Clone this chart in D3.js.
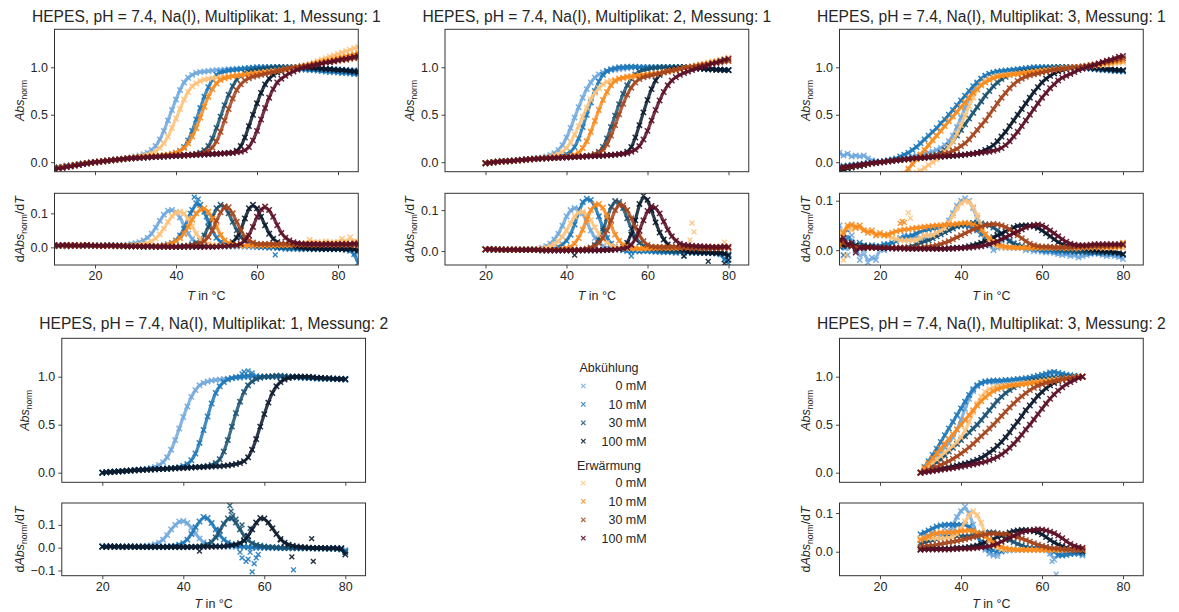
<!DOCTYPE html>
<html>
<head>
<meta charset="utf-8">
<script src="https://cdn.jsdelivr.net/npm/d3@7"></script>
<style>
  html, body { margin: 0; padding: 0; background: #ffffff; }
  svg { display: block; }
</style>
</head>
<body>
<svg id="fig" width="1179" height="612"></svg>
<script>
// ---------------------------------------------------------------------------
// Melting curves (normalised absorbance) and their first derivative,
// HEPES pH 7.4 with Na(I), one data point per °C.
// c = Abkühlung (cooling), h = Erwärmung (heating); suffix = salt in mM.
// ---------------------------------------------------------------------------

const concLabels = ["0 mM", "10 mM", "30 mM", "100 mM"];
const xTicks = [20, 40, 60, 80];
const absTicks = [0, 0.5, 1.0];
const X_DOMAIN = [10, 85];
const ABS_DOMAIN = [-0.1, 1.4];

// ---- Multiplikat 1, Messung 1 (10 … 85 °C) --------------------------------
const tStart_m1s1 = 10;
const abs_m1s1_c0 = [
-.06,-.055,-.05,-.04,-.035,-.03,-.02,-.015,-.01,-.005,
0,.005,.01,.015,.02,.025,.03,.035,.04,.05,
.06,.07,.085,.1,.13,.17,.24,.33,.44,.55,
.66,.76,.84,.89,.92,.94,.95,.955,.96,.965,
.97,.97,.975,.98,.98,.985,.985,.99,.99,.99,
.995,.995,1,1,1,1,1,1,1,1,
1,1,1,.995,.995,.99,.99,.985,.985,.98,
.98,.975,.975,.97,.97,.965];
const abs_m1s1_c10 = [
-.06,-.055,-.05,-.04,-.035,-.03,-.02,-.015,-.01,-.005,
0,.005,.01,.015,.02,.025,.03,.035,.04,.045,
.05,.052,.055,.058,.06,.062,.065,.07,.075,.085,
.1,.12,.16,.23,.33,.45,.57,.69,.79,.87,
.92,.945,.955,.965,.97,.975,.98,.985,.99,.995,
1,1,1,1,1,1,1,.995,.99,.99,
.985,.98,.975,.97,.97,.965,.96,.955,.95,.95,
.945,.94,.94,.935,.93,.93];
const abs_m1s1_c30 = [
-.06,-.055,-.05,-.04,-.035,-.03,-.02,-.015,-.01,-.005,
0,.005,.01,.015,.02,.025,.03,.035,.04,.043,
.046,.048,.05,.052,.054,.056,.058,.06,.062,.064,
.066,.068,.07,.075,.08,.09,.1,.125,.17,.25,
.36,.48,.6,.71,.8,.87,.91,.94,.955,.965,
.975,.98,.985,.99,.995,1,1,1,1,1,
1,1,1,.995,.99,.99,.985,.98,.98,.975,
.97,.97,.965,.96,.96,.955];
const abs_m1s1_c100 = [
-.065,-.06,-.05,-.045,-.04,-.03,-.025,-.015,-.01,-.005,
0,.005,.01,.015,.02,.024,.028,.032,.036,.04,
.043,.046,.049,.052,.055,.057,.059,.061,.063,.065,
.067,.069,.071,.073,.075,.077,.079,.081,.083,.085,
.087,.09,.093,.097,.1,.12,.17,.26,.38,.5,
.62,.73,.82,.88,.92,.945,.96,.975,.985,.99,
1,1,1,.995,.99,.99,.985,.98,.98,.975,
.97,.97,.965,.96,.955,.95];
const abs_m1s1_h0 = [
-.07,-.06,-.055,-.05,-.04,-.035,-.025,-.02,-.01,-.005,
0,.005,.01,.015,.02,.025,.03,.035,.04,.045,
.05,.06,.07,.08,.095,.115,.15,.2,.27,.36,
.46,.56,.66,.74,.8,.83,.855,.87,.88,.885,
.89,.895,.9,.905,.91,.915,.92,.925,.93,.935,
.94,.945,.95,.955,.96,.965,.97,.98,.985,.99,
1,1.01,1.02,1.035,1.05,1.065,1.08,1.095,1.11,1.125,
1.14,1.155,1.17,1.185,1.2,1.215];
const abs_m1s1_h10 = [
-.065,-.06,-.05,-.045,-.04,-.03,-.025,-.02,-.01,-.005,
0,.005,.01,.015,.02,.025,.03,.035,.04,.045,
.05,.052,.055,.06,.062,.065,.07,.075,.08,.09,
.1,.12,.15,.2,.27,.36,.47,.585,.69,.77,
.83,.865,.885,.895,.905,.91,.915,.92,.925,.93,
.935,.94,.945,.95,.955,.96,.97,.975,.985,.99,
1,1.01,1.015,1.025,1.035,1.045,1.055,1.065,1.075,1.085,
1.095,1.105,1.115,1.125,1.135,1.145];
const abs_m1s1_h30 = [
-.07,-.06,-.055,-.045,-.04,-.035,-.025,-.02,-.01,-.005,
0,.005,.01,.015,.02,.025,.03,.035,.04,.043,
.046,.049,.052,.055,.058,.06,.062,.064,.066,.068,
.07,.072,.074,.076,.08,.085,.09,.1,.12,.155,
.22,.32,.44,.56,.67,.76,.82,.86,.885,.9,
.91,.92,.93,.94,.95,.96,.97,.98,.99,.995,
1,1.01,1.015,1.02,1.03,1.035,1.04,1.05,1.055,1.06,
1.07,1.075,1.08,1.09,1.095,1.1];
const abs_m1s1_h100 = [
-.07,-.065,-.06,-.05,-.045,-.035,-.03,-.02,-.015,-.005,
0,.005,.01,.015,.02,.025,.03,.035,.04,.042,
.045,.048,.05,.052,.055,.058,.06,.062,.065,.067,
.07,.072,.074,.076,.078,.08,.082,.084,.086,.088,
.09,.092,.094,.097,.1,.105,.11,.125,.16,.23,
.33,.45,.57,.68,.77,.84,.88,.91,.935,.955,
.975,.99,1,1.01,1.02,1.03,1.04,1.05,1.055,1.065,
1.075,1.085,1.09,1.1,1.11,1.12];

const der_m1s1_c0 = [
.003,.005,.006,.004,.005,.007,.005,.004,.005,.005,
.005,.004,.006,.005,.005,.006,.005,.006,.008,.01,
.012,.015,.02,.028,.04,.058,.078,.096,.108,.11,
.104,.088,.064,.04,.024,.014,.008,.006,.005,.004,
.003,.004,.003,.002,.003,.002,.003,.002,.002,.001,
.001,.002,.001,0,.001,0,0,.001,0,-.001,
0,-.001,-.002,-.001,-.002,-.003,-.002,-.003,-.002,-.003,
-.002,-.004,-.003,-.005,-.008,-.015];
const der_m1s1_c10 = [
.004,.006,.005,.003,.006,.005,.004,.006,.005,.004,
.005,.004,.005,.006,.004,.005,.005,.004,.005,.004,
.003,.004,.003,.004,.003,.004,.005,.006,.009,.013,
.02,.035,.055,.085,.11,.13,.125,.105,.075,.048,
.028,.015,.009,.006,.005,.004,.005,.004,.004,.004,
.002,0,0,-.001,0,-.002,-.003,-.004,-.005,-.004,
-.005,-.006,-.005,-.004,-.006,-.005,-.006,-.004,-.005,-.006,
-.005,-.006,-.007,-.01,-.02,-.045];
const der_m1s1_c30 = [
.005,.004,.006,.005,.005,.004,.006,.005,.004,.005,
.005,.005,.004,.005,.006,.004,.005,.005,.004,.004,
.003,.003,.002,.003,.002,.003,.002,.002,.003,.002,
.002,.003,.004,.005,.008,.012,.02,.035,.06,.09,
.115,.125,.12,.1,.075,.05,.03,.018,.01,.008,
.006,.005,.004,.003,.003,.002,.001,0,0,-.001,
-.001,-.002,-.003,-.004,-.003,-.004,-.005,-.004,-.005,-.004,
-.005,-.004,-.006,-.005,-.006,-.008];
const der_m1s1_c100 = [
.005,.006,.005,.004,.006,.005,.005,.004,.006,.005,
.004,.005,.004,.005,.004,.004,.003,.004,.004,.003,
.003,.003,.002,.003,.002,.003,.002,.002,.002,.003,
.002,.002,.002,.003,.002,.002,.002,.002,.003,.002,
.003,.004,.006,.008,.015,.028,.05,.085,.115,.125,
.115,.09,.065,.04,.025,.015,.01,.008,.006,.005,
.002,0,-.002,-.003,-.004,-.003,-.004,-.005,-.004,-.005,
-.004,-.005,-.006,-.004,-.006,-.01];
const der_m1s1_h0 = [
.006,.005,.005,.007,.005,.006,.008,.005,.007,.005,
.005,.005,.005,.004,.005,.005,.005,.005,.005,.005,
.006,.008,.01,.013,.018,.026,.038,.055,.075,.092,
.102,.105,.1,.085,.062,.04,.024,.015,.01,.007,
.006,.005,.005,.006,.005,.005,.005,.005,.006,.005,
.006,.005,.006,.005,.006,.006,.008,.007,.006,.009,
.01,.01,.012,.022,.015,.016,.012,.018,.014,.015,
.016,.025,.015,.03,.018,.015];
const der_m1s1_h10 = [
.005,.006,.004,.005,.007,.005,.004,.006,.005,.005,
.005,.004,.005,.005,.004,.005,.005,.004,.005,.004,
.003,.004,.003,.004,.003,.004,.004,.005,.008,.012,
.018,.027,.04,.06,.082,.1,.112,.115,.105,.085,
.06,.036,.02,.012,.008,.006,.006,.005,.006,.005,
.006,.005,.006,.006,.005,.007,.006,.008,.007,.008,
.01,.009,.01,.011,.01,.009,.01,.011,.01,.009,
.01,.011,.012,.01,.011,.012];
const der_m1s1_h30 = [
.006,.005,.006,.005,.004,.006,.005,.005,.006,.005,
.005,.004,.005,.005,.005,.004,.004,.004,.003,.003,
.003,.003,.003,.003,.002,.002,.002,.002,.002,.002,
.002,.002,.003,.004,.006,.008,.012,.018,.03,.05,
.078,.103,.12,.118,.1,.075,.05,.03,.02,.014,
.01,.01,.01,.01,.01,.01,.01,.01,.01,.008,
.008,.007,.007,.007,.006,.007,.006,.007,.007,.006,
.007,.006,.007,.006,.007,.006];
const der_m1s1_h100 = [
.006,.005,.006,.007,.005,.006,.005,.006,.007,.005,
.005,.005,.004,.005,.005,.005,.005,.004,.003,.003,
.003,.003,.002,.003,.003,.002,.002,.003,.002,.002,
.002,.002,.002,.002,.002,.002,.002,.002,.002,.002,
.002,.003,.003,.004,.005,.006,.01,.02,.035,.06,
.09,.112,.12,.11,.09,.065,.042,.028,.02,.015,
.012,.011,.01,.01,.01,.01,.009,.01,.01,.009,
.01,.01,.009,.01,.011,.01];
const derOut_m1s1_c10 = [[43.5,.1],[44.5,.148],[45.5,.142],[47.5,.09],[64.5,-.022]];
const derDomain_m1s1 = [-0.052, 0.159];
const derTicks_m1s1 = [0, 0.1];

// ---- Multiplikat 2, Messung 1 (20 … 80 °C) --------------------------------
const tStart_m2s1 = 20;
const abs_m2s1_c0 = [
-.01,-.005,0,.005,.01,.012,.015,.018,.022,.026,
.03,.035,.04,.045,.05,.06,.075,.095,.13,.18,
.26,.36,.47,.58,.68,.77,.84,.89,.925,.945,
.96,.97,.975,.98,.985,.99,.995,1,1,1,
1,1,1,1,1,1,1,1,1,1,
1,.995,.99,.99,.985,.985,.98,.98,.975,.975,
.97];
const abs_m2s1_c10 = [
-.01,-.005,0,.005,.008,.01,.013,.016,.02,.024,
.028,.032,.036,.04,.043,.046,.05,.055,.06,.07,
.085,.11,.16,.25,.37,.5,.63,.75,.85,.92,
.96,.98,.99,1,1,1.005,1.005,1.005,1,1,
1,1,1,1,1,1,1,1,1,1,
1,.995,.99,.99,.985,.98,.98,.975,.975,.97,
.97];
const abs_m2s1_c30 = [
-.01,-.005,0,.005,.008,.01,.013,.016,.02,.024,
.028,.031,.034,.037,.04,.042,.044,.046,.048,.05,
.052,.054,.056,.058,.06,.062,.07,.085,.11,.16,
.25,.37,.49,.61,.72,.81,.88,.925,.955,.97,
.98,.99,.995,1,1,1,1,1,1,1,
1,.995,.99,.99,.985,.98,.98,.975,.975,.97,
.97];
const abs_m2s1_c100 = [
-.01,-.005,0,.005,.008,.01,.013,.016,.02,.024,
.028,.031,.034,.037,.04,.042,.044,.046,.048,.05,
.052,.054,.056,.058,.06,.062,.064,.066,.068,.07,
.073,.076,.079,.083,.09,.11,.16,.26,.39,.525,
.655,.77,.86,.92,.955,.97,.98,.99,.995,1,
1,.995,.99,.99,.985,.98,.98,.975,.975,.97,
.97];
const abs_m2s1_h0 = [
-.01,-.005,0,.005,.008,.01,.013,.016,.02,.024,
.028,.032,.036,.04,.045,.05,.06,.07,.085,.11,
.15,.21,.29,.38,.48,.575,.66,.73,.78,.82,
.845,.86,.87,.88,.885,.89,.895,.9,.905,.91,
.915,.92,.93,.94,.95,.96,.965,.975,.985,.99,
1,1.01,1.02,1.03,1.04,1.05,1.06,1.07,1.08,1.09,
1.1];
const abs_m2s1_h10 = [
-.01,-.005,0,.005,.008,.01,.013,.016,.02,.024,
.028,.032,.035,.038,.041,.044,.047,.05,.053,.056,
.06,.065,.075,.1,.15,.22,.32,.435,.55,.655,
.74,.81,.855,.88,.89,.9,.905,.91,.915,.92,
.925,.93,.935,.94,.95,.955,.965,.97,.98,.99,
1,1.005,1.015,1.02,1.03,1.035,1.045,1.05,1.06,1.07,
1.075];
const abs_m2s1_h30 = [
-.01,-.005,0,.005,.008,.01,.013,.016,.02,.024,
.028,.031,.034,.037,.04,.042,.044,.046,.048,.05,
.052,.054,.056,.058,.06,.065,.07,.085,.1,.13,
.19,.28,.39,.505,.615,.71,.785,.84,.875,.895,
.905,.915,.925,.935,.945,.955,.965,.975,.985,.99,
1,1.005,1.01,1.02,1.025,1.03,1.04,1.045,1.05,1.06,
1.065];
const abs_m2s1_h100 = [
-.01,-.005,0,.005,.008,.01,.013,.016,.02,.024,
.028,.031,.034,.037,.04,.042,.044,.046,.048,.05,
.052,.054,.056,.058,.06,.062,.064,.066,.068,.07,
.073,.076,.08,.085,.09,.095,.11,.13,.17,.24,
.33,.44,.55,.65,.74,.81,.86,.895,.92,.94,
.955,.97,.985,1,1.01,1.025,1.04,1.05,1.065,1.08,
1.09];

const der_m2s1_c0 = [
.005,.004,.005,.004,.004,.003,.004,.003,.004,.004,
.004,.005,.005,.005,.008,.012,.018,.028,.042,.062,
.085,.1,.105,.103,.092,.072,.05,.032,.02,.012,
.008,.006,.005,.005,.005,.004,.004,.003,.002,.001,
.001,0,.001,0,0,.001,0,0,-.001,0,
-.001,-.002,-.003,-.002,-.003,-.004,-.003,-.004,-.005,-.006,
-.01];
const der_m2s1_c10 = [
.004,.003,.005,.004,.004,.003,.004,.004,.003,.004,
.004,.004,.004,.003,.003,.003,.004,.006,.01,.016,
.025,.04,.065,.095,.12,.128,.125,.11,.085,.055,
.032,.018,.01,.005,.002,0,-.002,0,-.001,0,
0,-.001,-.002,-.002,-.003,-.002,-.003,-.004,-.003,-.004,
-.003,-.004,-.005,-.004,-.005,-.004,-.005,-.006,-.008,-.02,
-.03];
const der_m2s1_c30 = [
.004,.004,.003,.004,.004,.003,.003,.004,.003,.003,
.003,.003,.003,.003,.002,.002,.002,.002,.002,.002,
.002,.002,.002,.002,.003,.004,.008,.015,.027,.05,
.08,.108,.122,.12,.105,.08,.055,.035,.02,.012,
.008,.006,.004,.003,.002,.001,0,0,-.001,0,
-.002,-.003,-.002,-.003,-.004,-.003,-.004,-.005,-.004,-.006,
-.008];
const der_m2s1_c100 = [
.004,.004,.003,.004,.003,.003,.003,.003,.003,.003,
.003,.003,.003,.003,.002,.002,.002,.002,.002,.002,
.002,.002,.002,.002,.002,.002,.002,.002,.002,.002,
.003,.003,.004,.006,.01,.02,.04,.075,.115,.135,
.125,.1,.07,.045,.028,.016,.01,.007,.005,.003,
-.002,-.003,-.002,-.004,-.003,-.004,-.005,-.004,-.005,-.006,
-.012];
const der_m2s1_h0 = [
.004,.005,.004,.004,.003,.004,.003,.004,.004,.004,
.004,.004,.004,.005,.005,.008,.012,.016,.024,.035,
.05,.068,.085,.095,.096,.09,.075,.058,.042,.03,
.02,.014,.01,.008,.006,.006,.006,.006,.005,.006,
.006,.008,.009,.01,.009,.008,.009,.01,.009,.01,
.01,.012,.011,.01,.01,.011,.01,.01,.011,.012,
.01];
const der_m2s1_h10 = [
.004,.005,.004,.004,.003,.004,.003,.004,.003,.003,
.004,.003,.003,.003,.003,.003,.003,.004,.004,.005,
.007,.01,.018,.032,.052,.078,.1,.113,.115,.106,
.086,.062,.04,.025,.015,.01,.008,.007,.006,.007,
.006,.007,.006,.007,.008,.007,.008,.007,.008,.009,
.008,.009,.008,.009,.008,.009,.01,.009,.01,.011,
.01];
const der_m2s1_h30 = [
.004,.004,.004,.003,.004,.003,.003,.003,.003,.003,
.003,.003,.003,.003,.002,.002,.002,.002,.002,.002,
.002,.002,.002,.003,.004,.006,.008,.012,.02,.032,
.05,.075,.1,.115,.112,.1,.08,.058,.038,.024,
.015,.011,.01,.01,.01,.01,.01,.01,.01,.008,
.007,.006,.007,.006,.007,.006,.007,.006,.007,.008,
.007];
const der_m2s1_h100 = [
.004,.005,.004,.004,.003,.004,.003,.004,.003,.003,
.003,.003,.003,.003,.002,.002,.002,.002,.002,.002,
.002,.002,.002,.002,.002,.002,.002,.002,.002,.003,
.003,.003,.004,.005,.006,.008,.015,.028,.05,.075,
.098,.11,.106,.092,.072,.052,.036,.025,.018,.015,
.014,.013,.012,.012,.011,.011,.01,.01,.01,.011,
.01];
const derOut_m2s1_c10 = [[56,-.012],[69,-.012],[79.5,-.015]];
const derOut_m2s1_c100 = [[42,-.01],[69,-.012],[75,-.025],[79,-.03],[80,-.022]];
const derOut_m2s1_h0 = [[70.5,.027],[71,.068],[71.5,.047],[79,.022]];
const derDomain_m2s1 = [-0.034, 0.141];
const derTicks_m2s1 = [0, 0.1];

// ---- Multiplikat 3, Messung 1 (10 … 80 °C) --------------------------------
const tStart_m3s1 = 10;
const abs_m3s1_c0 = [
.1,.07,.09,.06,.07,.06,.07,.04,.02,.01,
0,.005,.01,.015,.02,.03,.04,.05,.06,.07,
.08,.09,.1,.11,.13,.15,.18,.22,.28,.37,
.47,.57,.67,.76,.83,.88,.91,.93,.94,.945,
.95,.955,.96,.965,.97,.975,.98,.985,.99,.995,
1,1,1,1,1,1,1,1,1,1,
1,.995,.99,.985,.98,.98,.975,.97,.97,.965,
.96];
const abs_m3s1_c10 = [
-.05,-.04,-.035,-.03,-.025,-.02,-.015,-.01,-.005,0,
.005,.01,.02,.03,.04,.06,.08,.1,.13,.16,
.2,.24,.28,.32,.36,.41,.45,.5,.55,.6,
.65,.7,.75,.8,.84,.88,.91,.93,.945,.955,
.96,.965,.97,.975,.98,.985,.99,.995,1,1,
1,1,1,1,1,1,1,1,1,.995,
.99,.99,.985,.98,.975,.97,.97,.965,.96,.96,
.955];
const abs_m3s1_c30 = [
-.08,-.07,-.06,-.05,-.04,-.035,-.03,-.02,-.01,-.005,
0,.005,.01,.015,.02,.025,.03,.035,.04,.045,
.05,.055,.06,.07,.08,.1,.13,.17,.22,.28,
.34,.4,.46,.52,.58,.64,.7,.75,.8,.84,
.875,.9,.92,.935,.945,.955,.96,.965,.97,.975,
.98,.985,.99,.995,1,1,1,1,1,1,
1,.995,.99,.99,.985,.98,.98,.975,.97,.97,
.965];
const abs_m3s1_c100 = [
-.085,-.075,-.065,-.055,-.045,-.04,-.03,-.02,-.01,-.005,
0,.005,.01,.015,.02,.024,.028,.032,.036,.04,
.043,.046,.049,.052,.055,.058,.061,.064,.067,.07,
.075,.08,.085,.09,.1,.11,.13,.15,.18,.22,
.27,.32,.38,.44,.5,.56,.62,.68,.74,.79,
.84,.88,.91,.935,.955,.97,.98,.99,.995,1,
1,1,.995,.99,.99,.985,.98,.98,.975,.97,
.97];
const abs_m3s1_h0 = [
-.7,-.66,-.62,-.58,-.54,-.5,-.46,-.42,-.38,-.35,
-.32,-.29,-.26,-.23,-.21,-.19,-.17,-.15,-.13,-.11,
-.09,-.06,-.03,0,.03,.07,.11,.16,.22,.3,
.39,.49,.59,.68,.76,.82,.86,.885,.9,.91,
.915,.92,.925,.93,.935,.94,.945,.95,.955,.96,
.965,.97,.975,.98,.985,.99,.99,.995,1,1,
1,1.005,1.01,1.015,1.02,1.025,1.03,1.035,1.04,1.045,
1.05];
const abs_m3s1_h10 = [
-.85,-.8,-.75,-.7,-.65,-.6,-.55,-.5,-.46,-.42,
-.38,-.34,-.3,-.26,-.22,-.17,-.12,-.07,-.02,.03,
.08,.13,.18,.23,.28,.33,.38,.43,.48,.53,
.58,.63,.68,.73,.77,.81,.84,.865,.885,.9,
.91,.915,.92,.925,.93,.935,.94,.945,.95,.955,
.96,.965,.97,.975,.98,.985,.99,.995,1,1,
1.005,1.01,1.02,1.025,1.03,1.04,1.045,1.05,1.06,1.065,
1.07];
const abs_m3s1_h30 = [
-.06,-.055,-.05,-.045,-.04,-.03,-.025,-.02,-.01,-.005,
0,.005,.01,.015,.02,.025,.03,.035,.04,.045,
.05,.055,.06,.065,.07,.08,.09,.1,.12,.14,
.17,.2,.24,.29,.34,.39,.44,.5,.56,.62,
.68,.73,.78,.82,.855,.88,.9,.915,.925,.935,
.945,.955,.965,.975,.98,.985,.99,.995,1,1,
1.01,1.015,1.025,1.03,1.04,1.05,1.055,1.065,1.075,1.085,
1.095];
const abs_m3s1_h100 = [
-.06,-.05,-.045,-.04,-.035,-.03,-.02,-.015,-.01,-.005,
0,.005,.01,.015,.02,.025,.03,.035,.04,.043,
.046,.049,.052,.055,.058,.061,.064,.067,.07,.073,
.076,.08,.085,.09,.095,.1,.105,.11,.12,.13,
.15,.18,.22,.27,.32,.38,.44,.5,.56,.62,
.68,.73,.78,.82,.86,.89,.91,.93,.95,.97,
.985,1,1.01,1.025,1.04,1.055,1.07,1.08,1.095,1.11,
1.12];

const der_m3s1_c0 = [
.05,.02,-.01,.03,.01,-.02,0,-.025,-.015,-.02,
.005,0,.01,.015,.02,.025,.03,.02,.025,.03,
.02,.025,.03,.03,.035,.04,.05,.06,.075,.09,
.1,.105,.1,.085,.065,.045,.025,.01,0,.005,
.02,.025,.02,.015,.01,.005,0,.002,-.002,0,
-.003,-.005,-.004,-.006,-.008,-.01,-.008,-.012,-.01,-.015,
-.012,-.01,-.008,-.006,-.008,-.01,-.012,-.01,-.012,-.014,
-.018];
const der_m3s1_c10 = [
.02,-.01,.04,.01,0,.015,.01,.005,.01,.008,
.008,.012,.012,.015,.018,.022,.025,.028,.03,.034,
.037,.04,.042,.044,.045,.046,.048,.05,.05,.05,
.05,.05,.048,.045,.04,.032,.025,.018,.012,.008,
.006,.005,.005,.005,.005,.005,.005,.004,.003,.002,
0,-.001,0,-.002,-.003,-.002,-.004,-.003,-.004,-.005,
-.004,-.005,-.006,-.005,-.006,-.005,-.006,-.007,-.006,-.008,
-.01];
const der_m3s1_c30 = [
.01,.008,.01,.01,.008,.006,.007,.008,.006,.005,
.005,.005,.005,.005,.005,.005,.005,.006,.008,.012,
.015,.018,.02,.024,.028,.032,.036,.04,.044,.048,
.05,.052,.054,.055,.055,.054,.052,.05,.046,.04,
.032,.025,.018,.013,.01,.008,.006,.005,.005,.005,
.004,.004,.004,.003,.002,.001,0,0,-.001,-.002,
-.002,-.003,-.003,-.004,-.004,-.005,-.004,-.005,-.005,-.006,
-.008];
const der_m3s1_c100 = [
.015,.01,.012,.008,.01,.006,.008,.006,.006,.005,
.005,.005,.004,.004,.004,.004,.004,.003,.003,.003,
.003,.003,.003,.003,.003,.003,.003,.004,.004,.005,
.005,.006,.008,.01,.012,.015,.018,.022,.026,.03,
.034,.038,.042,.046,.049,.05,.05,.05,.048,.045,
.04,.034,.028,.022,.016,.012,.009,.007,.005,.004,
.003,.002,.001,0,-.001,-.002,-.003,-.002,-.004,-.005,
-.008];
const der_m3s1_h0 = [
.035,.04,.045,.04,.05,.045,.04,.04,.035,.03,
.03,.03,.028,.025,.022,.02,.02,.02,.02,.02,
.025,.03,.03,.03,.035,.04,.045,.055,.07,.085,
.095,.1,.098,.088,.07,.05,.032,.02,.012,.008,
.006,.005,.005,.005,.005,.005,.005,.005,.005,.005,
.005,.005,.005,.005,.005,.005,.004,.005,.004,.004,
.005,.005,.005,.006,.005,.005,.005,.005,.005,.005,
.005];
const der_m3s1_h10 = [
.01,.035,.05,.052,.045,.05,.04,.035,.04,.03,
.035,.03,.032,.035,.038,.04,.042,.042,.044,.045,
.046,.047,.048,.049,.05,.05,.051,.052,.052,.053,
.054,.055,.054,.052,.048,.04,.032,.024,.017,.012,
.009,.007,.006,.005,.005,.005,.005,.005,.005,.005,
.005,.005,.005,.005,.005,.005,.005,.005,.005,.005,
.006,.007,.006,.007,.006,.007,.006,.007,.006,.007,
.015];
const der_m3s1_h30 = [
.02,.015,.01,.008,.006,.006,.005,.005,.005,.005,
.005,.005,.005,.005,.005,.005,.005,.005,.005,.005,
.005,.006,.007,.008,.01,.012,.015,.018,.022,.026,
.03,.034,.038,.042,.045,.048,.05,.052,.053,.052,
.05,.047,.042,.036,.03,.024,.018,.013,.01,.008,
.007,.007,.007,.006,.006,.006,.006,.006,.006,.007,
.007,.007,.008,.008,.008,.008,.008,.009,.009,.009,
.01];
const der_m3s1_h100 = [
.02,.025,.01,.015,-.005,.005,.004,.006,.005,.005,
.005,.004,.004,.004,.003,.004,.003,.003,.003,.003,
.003,.003,.003,.003,.003,.003,.003,.003,.003,.004,
.004,.005,.005,.006,.007,.008,.01,.012,.015,.018,
.022,.026,.03,.034,.038,.042,.046,.049,.051,.052,
.05,.046,.04,.034,.028,.022,.017,.013,.011,.01,
.01,.01,.011,.012,.012,.012,.012,.012,.012,.012,
.012];
const derOut_m3s1_h0 = [[11,-.02],[11.5,-.01],[27,.076],[27.5,.065]];
const derOut_m3s1_h10 = [[25,.054],[25.5,.058],[26,.056]];
const derDomain_m3s1 = [-0.030, 0.115];
const derTicks_m3s1 = [0, 0.1];

// ---- Multiplikat 1, Messung 2 (20 … 80 °C, cooling only) ------------------
const tStart_m1s2 = 20;
const abs_m1s2_c0 = [
0,.005,.008,.01,.013,.016,.02,.023,.026,.03,
.035,.04,.05,.06,.08,.11,.16,.24,.34,.46,
.58,.69,.79,.86,.91,.935,.95,.96,.965,.97,
.975,.98,.985,.99,.99,.995,.995,1,1,1,
1,1,1,1,1,1,1,1,.995,.99,
.99,.985,.985,.98,.98,.98,.98,.975,.975,.975,
.97];
const abs_m1s2_c10 = [
0,.005,.008,.01,.013,.016,.02,.023,.026,.03,
.032,.034,.036,.038,.04,.042,.045,.048,.05,.058,
.07,.09,.13,.2,.31,.445,.585,.72,.83,.9,
.945,.97,.985,.995,1,1.005,1.01,1.01,1.005,1,
1,1,1,1,1,1,1,1,.995,.99,
.99,.985,.985,.98,.98,.98,.98,.975,.975,.975,
.97];
const abs_m1s2_c30 = [
0,.004,.007,.01,.013,.016,.019,.022,.025,.028,
.03,.032,.034,.036,.038,.04,.042,.044,.046,.05,
.052,.054,.056,.058,.06,.064,.07,.08,.1,.14,
.22,.34,.48,.62,.74,.84,.91,.95,.975,.99,
1,1,1.005,1.01,1.01,1.005,1,1,1,1,
.995,.99,.99,.985,.985,.98,.98,.98,.975,.975,
.975];
const abs_m1s2_c100 = [
0,.004,.007,.01,.013,.016,.019,.022,.025,.028,
.03,.032,.034,.036,.038,.04,.042,.044,.046,.048,
.05,.052,.054,.056,.058,.06,.062,.064,.066,.068,
.072,.076,.082,.09,.1,.12,.16,.24,.35,.48,
.61,.73,.83,.9,.945,.97,.985,.995,1,1,
1,1,.995,.99,.99,.985,.985,.98,.98,.975,
.975];
const absOut_m1s2_c10 = [[54.5,1.03],[55,1.05],[56,1.06],[57,1.04]];

const der_m1s2_c0 = [
.005,.008,.004,.006,.005,.004,.006,.003,.005,.004,
.006,.008,.01,.015,.022,.035,.055,.08,.1,.115,
.117,.108,.088,.062,.04,.024,.014,.01,.007,.005,
.005,.004,.005,.003,.004,.003,.003,.002,.002,.002,
.001,0,.001,0,0,-.001,0,-.001,-.002,-.003,
-.002,-.002,-.001,-.002,-.001,-.002,-.001,0,-.002,-.003,
-.01];
const der_m1s2_c10 = [
.005,.004,.006,.005,.004,.005,.004,.005,.004,.005,
.004,.003,.004,.003,.004,.004,.005,.006,.008,.013,
.02,.035,.06,.09,.115,.135,.13,.108,.08,.055,
.035,.022,.014,.01,.006,.004,.002,.001,0,0,
0,-.001,0,-.001,-.002,-.001,-.002,-.003,-.002,-.003,
-.003,-.002,-.003,-.004,-.003,-.004,-.005,-.004,-.006,-.008,
-.015];
const der_m1s2_c30 = [
.004,.005,.004,.003,.005,.004,.003,.005,.004,.003,
.004,.003,.003,.004,.003,.003,.004,.003,.003,.003,
.003,.003,.003,.004,.005,.008,.014,.025,.045,.075,
.105,.128,.13,.11,.08,.052,.032,.02,.012,.008,
.005,.003,.002,.001,0,-.001,0,-.001,-.002,-.001,
-.002,-.002,-.003,-.002,-.003,-.003,-.004,-.003,-.005,-.006,
-.02];
const der_m1s2_c100 = [
.005,.003,.006,.004,.005,.003,.004,.005,.003,.004,
.003,.004,.003,.003,.004,.003,.003,.004,.003,.003,
.003,.003,.003,.003,.003,.004,.004,.004,.005,.005,
.006,.008,.01,.014,.02,.03,.05,.08,.11,.13,
.128,.11,.085,.06,.038,.022,.013,.008,.005,.003,
.002,0,-.001,-.002,-.001,-.002,-.003,-.002,-.003,-.002,
-.03];
const derOut_m1s2_c10 = [[53.5,.01],[54,-.02],[54.5,-.045],[55,.03],[55.5,-.06],[56,-.05],
  [56.5,-.02],[57,-.106],[57.5,-.07],[58,-.045],[58.5,-.03],[67.2,-.097]];
const derOut_m1s2_c30 = [[51.5,.185],[51.8,.16],[52.2,.14],[53,.125],[54.5,.1],[56.5,.085]];
const derOut_m1s2_c100 = [[44,-.015],[64,.033],[66.8,-.04],[71.7,.04],[72.1,-.06]];
const derDomain_m1s2 = [-0.123, 0.196];
const derTicks_m1s2 = [-0.1, 0, 0.1];

// ---- Multiplikat 3, Messung 2 (30 … 70 °C) --------------------------------
const tStart_m3s2 = 30;
const abs_m3s2_c0 = [
0,.04,.085,.13,.175,.22,.265,.31,.37,.45,
.55,.665,.77,.85,.9,.93,.945,.945,.94,.935,
.935,.94,.945,.95,.955,.96,.965,.97,.975,.98,
.99,1,1.01,1.005,1,1,1,1,1,1,
1];
const abs_m3s2_c10 = [
0,.06,.12,.185,.25,.32,.39,.46,.53,.6,
.67,.74,.81,.87,.91,.935,.95,.955,.96,.96,
.96,.965,.965,.97,.975,.98,.985,.99,1,1.01,
1.02,1.03,1.045,1.05,1.04,1.03,1.02,1.015,1.01,1.005,
1];
const abs_m3s2_c30 = [
0,.025,.05,.08,.11,.14,.18,.22,.26,.3,
.34,.38,.42,.46,.5,.55,.6,.65,.7,.75,
.79,.83,.86,.89,.91,.93,.945,.955,.965,.97,
.975,.98,.985,.99,.99,.995,.995,1,1,1,
1];
const abs_m3s2_c100 = [
0,.008,.016,.024,.032,.04,.048,.056,.065,.075,
.085,.095,.105,.12,.135,.155,.18,.21,.24,.28,
.32,.37,.42,.48,.53,.59,.65,.7,.75,.8,
.84,.88,.91,.935,.955,.97,.98,.99,.995,1,
1];
const abs_m3s2_h0 = [
0,.035,.07,.105,.14,.175,.21,.245,.28,.32,
.37,.44,.53,.63,.72,.79,.84,.87,.89,.9,
.905,.91,.915,.92,.925,.93,.935,.94,.945,.95,
.955,.96,.965,.97,.975,.98,.985,.99,.995,.998,
1];
const abs_m3s2_h10 = [
0,.05,.1,.15,.2,.25,.3,.35,.4,.45,
.5,.55,.6,.65,.7,.745,.785,.82,.85,.87,
.885,.895,.905,.91,.915,.92,.925,.93,.935,.94,
.945,.95,.955,.96,.965,.97,.975,.98,.99,.995,
1];
const abs_m3s2_h30 = [
0,.015,.03,.045,.06,.08,.1,.12,.145,.17,
.2,.23,.265,.3,.34,.38,.42,.46,.5,.545,
.59,.635,.68,.72,.76,.795,.83,.86,.885,.905,
.92,.935,.945,.955,.965,.975,.98,.985,.99,.995,
1];
const abs_m3s2_h100 = [
0,.006,.012,.018,.024,.03,.036,.042,.048,.055,
.062,.07,.078,.086,.095,.105,.115,.13,.145,.165,
.19,.22,.26,.3,.345,.395,.45,.5,.555,.61,
.665,.72,.77,.815,.855,.89,.92,.945,.965,.985,
1];

const der_m3s2_c0 = [
.03,.045,.04,.05,.045,.04,.045,.05,.07,.09,
.105,.117,.1,.07,.04,.02,.005,-.005,-.01,-.005,
0,.005,.005,.005,.005,.005,.005,.005,.005,.005,
.006,.004,-.005,-.02,-.01,-.005,0,.002,.002,0,
-.01];
const der_m3s2_c10 = [
.045,.05,.055,.06,.065,.068,.07,.07,.07,.07,
.07,.07,.065,.055,.04,.025,.012,.005,.003,.002,
.002,.003,.004,.005,.005,.005,.006,.008,.01,.012,
.012,.012,.008,0,-.008,-.01,-.008,-.006,-.005,-.005,
-.005];
const der_m3s2_c30 = [
.02,.025,.028,.03,.032,.035,.038,.04,.04,.04,
.04,.04,.04,.042,.045,.048,.05,.05,.05,.048,
.042,.035,.03,.025,.02,.016,.012,.01,.008,.006,
.005,.005,.005,.005,.004,.004,.003,.003,.002,.002,
0];
const der_m3s2_c100 = [
.006,.007,.008,.008,.008,.008,.008,.008,.009,.01,
.01,.011,.012,.014,.016,.02,.024,.028,.033,.038,
.042,.046,.05,.053,.055,.056,.056,.055,.053,.05,
.045,.038,.03,.024,.018,.014,.01,.008,.006,.004,
.002];
const der_m3s2_h0 = [
.035,.035,.035,.035,.035,.035,.035,.036,.038,.045,
.058,.078,.095,.105,.095,.075,.045,.028,.015,.01,
.006,.005,.005,.005,.005,.005,.005,.005,.005,.005,
.005,.005,.005,.005,.005,.005,.005,.005,.005,.005,
.005];
const der_m3s2_h10 = [
.03,.035,.04,.045,.048,.05,.05,.05,.05,.052,
.053,.054,.055,.054,.05,.045,.038,.032,.024,.018,
.012,.009,.007,.006,.005,.005,.005,.005,.005,.005,
.005,.005,.005,.005,.005,.005,.005,.006,.007,.008,
.01];
const der_m3s2_h30 = [
.012,.014,.015,.016,.018,.02,.022,.024,.026,.028,
.03,.032,.035,.038,.04,.042,.045,.046,.047,.047,
.046,.045,.043,.04,.037,.034,.03,.026,.022,.018,
.015,.012,.01,.009,.008,.007,.006,.006,.005,.005,
.005];
const der_m3s2_h100 = [
.005,.006,.006,.006,.006,.006,.006,.006,.007,.007,
.008,.008,.008,.009,.01,.011,.012,.014,.017,.021,
.026,.031,.036,.041,.046,.05,.053,.055,.057,.058,
.057,.055,.052,.048,.042,.035,.027,.02,.015,.012,
.01];
const derOut_m3s2_c0 = [[36,.06],[37.5,.055],[38.5,.06],[48,-.008],[49,-.012],[62.5,-.025],[63.5,-.058]];
const derDomain_m3s2 = [-0.062, 0.126];
const derTicks_m3s2 = [0, 0.1];

// ---- colours --------------------------------------------------------------
const coolColors = ["#72a9de", "#1f79ba", "#1b5372", "#0c1a2e"];
const heatColors = ["#fdc47e", "#f98b1f", "#a5461f", "#5b1026"];

// ---------------------------------------------------------------------------
// Figure assembly
// ---------------------------------------------------------------------------
const FONT = '"Liberation Sans", Arial, Helvetica, sans-serif';
const TEXT = "#262626";
const SPINE = "#333333";
const AX_W = 303.75;

const rowTop = { absTop: 29.3, absBottom: 171.7, derTop: 193.3, derBottom: 265, titleY: 21.5, xLabelY: 300 };
const rowBottom = { absTop: 338.3, absBottom: 482.3, derTop: 503, derBottom: 575.7, titleY: 329, xLabelY: 607.5 };

const panels = [
  { title: "HEPES, pH = 7.4, Na(I), Multiplikat: 1, Messung: 1", t0: tStart_m1s1,
    absCool: [abs_m1s1_c0, abs_m1s1_c10, abs_m1s1_c30, abs_m1s1_c100],
    absHeat: [abs_m1s1_h0, abs_m1s1_h10, abs_m1s1_h30, abs_m1s1_h100],
    derCool: [der_m1s1_c0, der_m1s1_c10, der_m1s1_c30, der_m1s1_c100],
    derHeat: [der_m1s1_h0, der_m1s1_h10, der_m1s1_h30, der_m1s1_h100],
    absOutCool: [[], [], [], []], absOutHeat: [[], [], [], []],
    derOutCool: [[], derOut_m1s1_c10, [], []], derOutHeat: [[], [], [], []],
    derDomain: derDomain_m1s1, derTicks: derTicks_m1s1,
    left: 54.5, row: rowTop, absLabelDx: 35, derLabelDx: 35 },
  { title: "HEPES, pH = 7.4, Na(I), Multiplikat: 2, Messung: 1", t0: tStart_m2s1,
    absCool: [abs_m2s1_c0, abs_m2s1_c10, abs_m2s1_c30, abs_m2s1_c100],
    absHeat: [abs_m2s1_h0, abs_m2s1_h10, abs_m2s1_h30, abs_m2s1_h100],
    derCool: [der_m2s1_c0, der_m2s1_c10, der_m2s1_c30, der_m2s1_c100],
    derHeat: [der_m2s1_h0, der_m2s1_h10, der_m2s1_h30, der_m2s1_h100],
    absOutCool: [[], [], [], []], absOutHeat: [[], [], [], []],
    derOutCool: [[], derOut_m2s1_c10, [], derOut_m2s1_c100], derOutHeat: [derOut_m2s1_h0, [], [], []],
    derDomain: derDomain_m2s1, derTicks: derTicks_m2s1,
    left: 445, row: rowTop, absLabelDx: 35.5, derLabelDx: 35.5 },
  { title: "HEPES, pH = 7.4, Na(I), Multiplikat: 3, Messung: 1", t0: tStart_m3s1,
    absCool: [abs_m3s1_c0, abs_m3s1_c10, abs_m3s1_c30, abs_m3s1_c100],
    absHeat: [abs_m3s1_h0, abs_m3s1_h10, abs_m3s1_h30, abs_m3s1_h100],
    derCool: [der_m3s1_c0, der_m3s1_c10, der_m3s1_c30, der_m3s1_c100],
    derHeat: [der_m3s1_h0, der_m3s1_h10, der_m3s1_h30, der_m3s1_h100],
    absOutCool: [[], [], [], []], absOutHeat: [[], [], [], []],
    derOutCool: [[], [], [], []], derOutHeat: [derOut_m3s1_h0, derOut_m3s1_h10, [], []],
    derDomain: derDomain_m3s1, derTicks: derTicks_m3s1,
    left: 839.5, row: rowTop, absLabelDx: 34.5, derLabelDx: 34.5 },
  { title: "HEPES, pH = 7.4, Na(I), Multiplikat: 1, Messung: 2", t0: tStart_m1s2,
    absCool: [abs_m1s2_c0, abs_m1s2_c10, abs_m1s2_c30, abs_m1s2_c100],
    absHeat: [],
    derCool: [der_m1s2_c0, der_m1s2_c10, der_m1s2_c30, der_m1s2_c100],
    derHeat: [],
    absOutCool: [[], absOut_m1s2_c10, [], []], absOutHeat: [],
    derOutCool: [[], derOut_m1s2_c10, derOut_m1s2_c30, derOut_m1s2_c100], derOutHeat: [],
    derDomain: derDomain_m1s2, derTicks: derTicks_m1s2,
    left: 61.8, row: rowBottom, absLabelDx: 37, derLabelDx: 42 },
  { title: "HEPES, pH = 7.4, Na(I), Multiplikat: 3, Messung: 2", t0: tStart_m3s2,
    absCool: [abs_m3s2_c0, abs_m3s2_c10, abs_m3s2_c30, abs_m3s2_c100],
    absHeat: [abs_m3s2_h0, abs_m3s2_h10, abs_m3s2_h30, abs_m3s2_h100],
    derCool: [der_m3s2_c0, der_m3s2_c10, der_m3s2_c30, der_m3s2_c100],
    derHeat: [der_m3s2_h0, der_m3s2_h10, der_m3s2_h30, der_m3s2_h100],
    absOutCool: [[], [], [], []], absOutHeat: [[], [], [], []],
    derOutCool: [derOut_m3s2_c0, [], [], []], derOutHeat: [[], [], [], []],
    derDomain: derDomain_m3s2, derTicks: derTicks_m3s2,
    left: 839.5, row: rowBottom, absLabelDx: 34.5, derLabelDx: 34.5 }
];

const svg = d3.select("#fig");
const defs = svg.append("defs");
let clipCount = 0;

function crossPath(r) {
  return `M${-r},${-r}L${r},${r}M${-r},${r}L${r},${-r}`;
}

function makeClip(x0, y0, w, h) {
  const id = "clip" + (clipCount++);
  defs.append("clipPath").attr("id", id)
    .append("rect").attr("x", x0).attr("y", y0).attr("width", w).attr("height", h);
  return `url(#${id})`;
}

function drawMarkers(layer, x, y, pts, color, r, sw) {
  layer.append("g")
    .attr("stroke", color).attr("stroke-width", sw).attr("fill", "none").attr("opacity", 0.9)
    .selectAll("path").data(pts).join("path")
    .attr("d", crossPath(r))
    .attr("transform", d => `translate(${x(d[0])},${y(d[1])})`);
}

function drawSeries(layer, x, y, t0, values, outliers, color, curve) {
  const pts = values.map((v, i) => [t0 + i, v]);
  layer.append("path").datum(pts)
    .attr("fill", "none").attr("stroke", color).attr("stroke-width", 3.2)
    .attr("stroke-linejoin", "round").attr("stroke-opacity", 0.85)
    .attr("d", d3.line().x(d => x(d[0])).y(d => y(d[1])).curve(curve));
  drawMarkers(layer, x, y, pts, color, 2.7, 1.5);
  if (outliers && outliers.length) drawMarkers(layer, x, y, outliers, color, 2.4, 1.4);
}

function styleAxis(sel) {
  sel.attr("font-family", FONT).attr("font-size", 12.5);
  sel.select(".domain").remove();
  sel.selectAll(".tick line").attr("stroke", SPINE).attr("stroke-width", 0.9);
  sel.selectAll(".tick text").attr("fill", TEXT);
}

function richText(parent, parts, attrs) {
  const t = parent.append("text")
    .attr("font-family", FONT).attr("font-size", 12.5).attr("fill", TEXT);
  Object.entries(attrs).forEach(([k, v]) => t.attr(k, v));
  parts.forEach(p => {
    const ts = t.append("tspan").text(p.s);
    if (p.it) ts.attr("font-style", "italic");
    if (p.sub) ts.attr("font-size", 8.6).attr("dy", 3);
    if (p.back) ts.attr("dy", -3);
  });
  return t;
}

const absLabelParts = [{ s: "Abs", it: true }, { s: "norm", sub: true }];
const derLabelParts = [{ s: "d" }, { s: "Abs", it: true }, { s: "norm", sub: true },
                       { s: "/d", back: true }, { s: "T", it: true }];
const xLabelParts = [{ s: "T", it: true }, { s: " in °C" }];

function drawPanel(p) {
  const r = p.row;
  const x = d3.scaleLinear().domain(X_DOMAIN).range([p.left, p.left + AX_W]);
  const yA = d3.scaleLinear().domain(ABS_DOMAIN).range([r.absBottom, r.absTop]);
  const yD = d3.scaleLinear().domain(p.derDomain).range([r.derBottom, r.derTop]);

  // data layers (clipped to their axes)
  const absLayer = svg.append("g").attr("clip-path", makeClip(p.left, r.absTop, AX_W, r.absBottom - r.absTop));
  const derLayer = svg.append("g").attr("clip-path", makeClip(p.left, r.derTop, AX_W, r.derBottom - r.derTop));

  p.absCool.forEach((vals, i) => drawSeries(absLayer, x, yA, p.t0, vals, p.absOutCool[i], coolColors[i], d3.curveMonotoneX));
  p.absHeat.forEach((vals, i) => drawSeries(absLayer, x, yA, p.t0, vals, p.absOutHeat[i], heatColors[i], d3.curveMonotoneX));
  p.derCool.forEach((vals, i) => drawSeries(derLayer, x, yD, p.t0, vals, p.derOutCool[i], coolColors[i], d3.curveBasis));
  p.derHeat.forEach((vals, i) => drawSeries(derLayer, x, yD, p.t0, vals, p.derOutHeat[i], heatColors[i], d3.curveBasis));

  // frames
  [[r.absTop, r.absBottom], [r.derTop, r.derBottom]].forEach(([t, b]) => {
    svg.append("rect").attr("x", p.left).attr("y", t).attr("width", AX_W).attr("height", b - t)
      .attr("fill", "none").attr("stroke", SPINE).attr("stroke-width", 1);
  });

  // axes
  svg.append("g").attr("transform", `translate(${p.left},0)`)
    .call(d3.axisLeft(yA).tickValues(absTicks).tickFormat(d3.format(".1f")).tickSize(3.5).tickPadding(3))
    .call(styleAxis);
  svg.append("g").attr("transform", `translate(${p.left},0)`)
    .call(d3.axisLeft(yD).tickValues(p.derTicks).tickFormat(d3.format(".1f")).tickSize(3.5).tickPadding(3))
    .call(styleAxis);
  svg.append("g").attr("transform", `translate(0,${r.absBottom})`)
    .call(d3.axisBottom(x).tickValues(xTicks).tickFormat("").tickSize(3.5))
    .call(styleAxis);
  svg.append("g").attr("transform", `translate(0,${r.derBottom})`)
    .call(d3.axisBottom(x).tickValues(xTicks).tickFormat(d3.format("d")).tickSize(3.5).tickPadding(3))
    .call(styleAxis);

  // labels
  const cx = p.left + AX_W / 2;
  svg.append("text").attr("x", cx).attr("y", r.titleY).attr("text-anchor", "middle")
    .attr("font-family", FONT).attr("font-size", 15.6).attr("fill", TEXT).text(p.title);
  richText(svg, xLabelParts, { x: cx, y: r.xLabelY, "text-anchor": "middle" });
  richText(svg, absLabelParts, {
    transform: `translate(${p.left - p.absLabelDx + 4.5},${(r.absTop + r.absBottom) / 2}) rotate(-90)`,
    "text-anchor": "middle" });
  richText(svg, derLabelParts, {
    transform: `translate(${p.left - p.derLabelDx + 4.5},${(r.derTop + r.derBottom) / 2}) rotate(-90)`,
    "text-anchor": "middle" });
}

panels.forEach(drawPanel);

// ---- legend ---------------------------------------------------------------
const legendGroups = [
  { title: "Abkühlung", colors: coolColors, titleY: 371.5, firstY: 386 },
  { title: "Erwärmung", colors: heatColors, titleY: 469.5, firstY: 483 }
];
const legend = svg.append("g").attr("font-family", FONT).attr("font-size", 12.5).attr("fill", TEXT);
legendGroups.forEach(gp => {
  legend.append("text").attr("x", 609).attr("y", gp.titleY).attr("text-anchor", "middle").text(gp.title);
  gp.colors.forEach((c, i) => {
    const yy = gp.firstY + i * 18.4;
    legend.append("path").attr("d", crossPath(2.2))
      .attr("transform", `translate(583.3,${yy})`)
      .attr("stroke", c).attr("stroke-width", 1.2).attr("fill", "none").attr("opacity", 0.85);
    legend.append("text").attr("x", 646.7).attr("y", yy + 4.4).attr("text-anchor", "end").text(concLabels[i]);
  });
});
</script>
</body>
</html>
